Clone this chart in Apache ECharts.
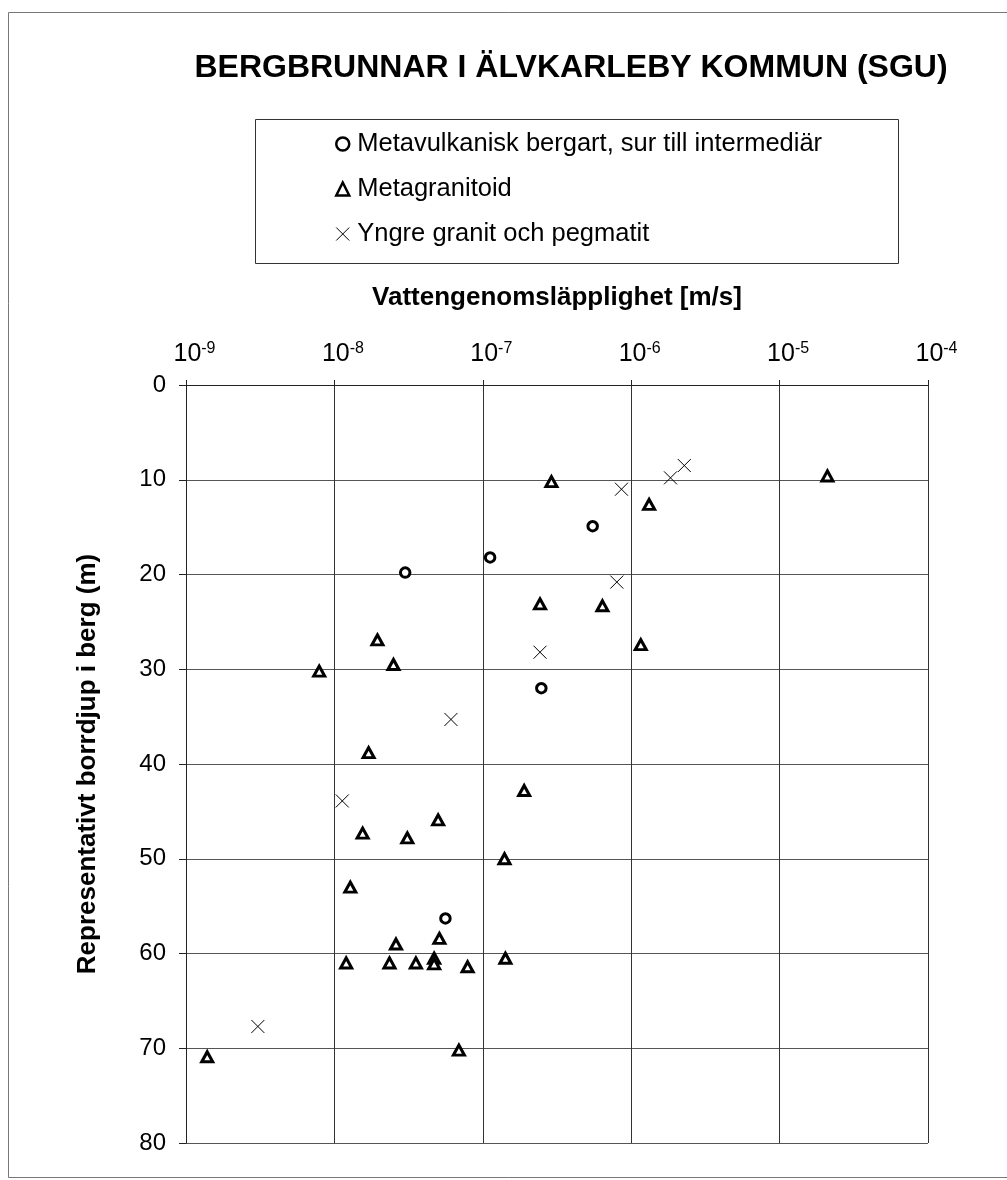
<!DOCTYPE html>
<html>
<head>
<meta charset="utf-8">
<script src="https://cdn.jsdelivr.net/npm/echarts@6/dist/echarts.min.js"></script>
<style>
  html, body { margin: 0; padding: 0; background: #fff; }
  #chart { width: 1007px; height: 1180px; }
</style>
</head>
<body>
<div id="chart"></div>
<script>
// Bergbrunnar i Älvkarleby kommun: hydraulic conductivity [m/s] vs. representative drilled depth in rock [m]

const titleText = 'BERGBRUNNAR I ÄLVKARLEBY KOMMUN (SGU)';
const xAxisName = 'Vattengenomsläpplighet [m/s]';
const yAxisName = 'Representativt borrdjup i berg (m)';
const seriesNames = [
  'Metavulkanisk bergart, sur till intermediär',
  'Metagranitoid',
  'Yngre granit och pegmatit'
];

// [conductivity m/s, depth m]
const metavulkanisk = [
  [3.0e-8, 19.8], [1.12e-7, 18.2], [5.5e-7, 14.9], [2.48e-7, 32.0], [5.6e-8, 56.3]
];

const metagranitoid = [
  [2.9e-7, 10.2], [2.1e-5, 9.6], [1.32e-6, 12.6], [2.43e-7, 23.1], [6.4e-7, 23.3],
  [1.16e-6, 27.4], [1.95e-8, 26.9], [2.5e-8, 29.5], [7.9e-9, 30.2], [1.7e-8, 38.8],
  [1.9e-7, 42.8], [5.0e-8, 45.9], [1.55e-8, 47.3], [3.1e-8, 47.8], [1.4e-7, 50.0],
  [1.28e-8, 53.0], [5.1e-8, 58.4], [2.6e-8, 59.0], [1.42e-7, 60.5], [1.2e-8, 61.0],
  [2.35e-8, 61.0], [3.54e-8, 61.0], [4.7e-8, 60.5], [4.7e-8, 61.1], [7.9e-8, 61.4],
  [1.39e-9, 70.9], [6.9e-8, 70.2]
];

const yngreGranit = [
  [8.6e-7, 11.0], [1.84e-6, 9.8], [2.28e-6, 8.5], [8.0e-7, 20.8],
  [2.43e-7, 28.2], [6.1e-8, 35.3], [1.13e-8, 43.9], [3.05e-9, 67.7]
];

const xMin = 1e-9, xMax = 1e-4;
const yMin = 0, yMax = 80, yStep = 10;

const FONT = '"Liberation Sans", Arial, sans-serif';

const chart = echarts.init(document.getElementById('chart'), null, { renderer: 'canvas' });

chart.setOption({
  backgroundColor: '#fff',
  animation: false,
  textStyle: { fontFamily: FONT, color: '#000' },
  title: {
    text: titleText,
    left: 571,
    top: 52,
    textAlign: 'center',
    padding: 0,
    textStyle: { fontFamily: FONT, fontSize: 32, fontWeight: 'bold', color: '#000' }
  },
  graphic: [
    {
      type: 'rect',
      silent: true,
      shape: { x: 8.5, y: 12.5, width: 1010, height: 1165 },
      style: { fill: 'none', stroke: '#777', lineWidth: 1 }
    },
    {
      type: 'rect',
      silent: true,
      shape: { x: 255.5, y: 119.5, width: 643, height: 144 },
      style: { fill: 'none', stroke: '#333', lineWidth: 1 }
    }
  ],
  legend: {
    orient: 'vertical',
    left: 335,
    top: 131,
    padding: 0,
    itemGap: 19,
    itemWidth: 13,
    itemHeight: 13,
    selectedMode: false,
    data: [
      { name: seriesNames[0], itemStyle: { borderWidth: 2.5 } },
      { name: seriesNames[1], itemStyle: { borderWidth: 2.5 } },
      { name: seriesNames[2], itemStyle: { borderWidth: 1 } }
    ],
    textStyle: { fontFamily: FONT, fontSize: 25.5, color: '#000', lineHeight: 26, padding: [0, 0, 0, 3] }
  },
  grid: { left: 186, right: 79, top: 385, bottom: 37, containLabel: false },
  xAxis: {
    type: 'log',
    logBase: 10,
    position: 'top',
    min: xMin,
    max: xMax,
    splitNumber: 5,
    name: xAxisName,
    nameLocation: 'middle',
    nameGap: 74,
    nameTextStyle: { fontFamily: FONT, fontSize: 26, fontWeight: 'bold', color: '#000' },
    axisLine: { show: true, lineStyle: { color: '#222', width: 1 } },
    axisTick: { show: true, inside: false, length: 5, lineStyle: { color: '#222' } },
    splitLine: { show: true, lineStyle: { color: '#333', width: 1 } },
    minorTick: { show: false },
    axisLabel: {
      margin: 18,
      fontSize: 25,
      fontFamily: FONT,
      color: '#000',
      padding: [0, 0, 0, 17],
      formatter: function (v) {
        const e = Math.round(Math.log10(v));
        return '{b|10}{e|' + e + '}';
      },
      rich: {
        b: { fontFamily: FONT, fontSize: 25, color: '#000', lineHeight: 26 },
        e: { fontFamily: FONT, fontSize: 16, color: '#000', verticalAlign: 'top', lineHeight: 14 }
      }
    }
  },
  yAxis: {
    type: 'value',
    inverse: true,
    min: yMin,
    max: yMax,
    interval: yStep,
    name: yAxisName,
    nameLocation: 'middle',
    nameGap: 85,
    nameRotate: 90,
    nameTextStyle: { fontFamily: FONT, fontSize: 26, fontWeight: 'bold', color: '#000' },
    axisLine: { show: true, lineStyle: { color: '#222', width: 1 } },
    axisTick: { show: true, inside: false, length: 7, lineStyle: { color: '#222' } },
    splitLine: { show: true, lineStyle: { color: '#555', width: 1 } },
    axisLabel: { margin: 20, fontFamily: FONT, fontSize: 24, color: '#000' }
  },
  series: [
    {
      name: seriesNames[0],
      type: 'scatter',
      data: metavulkanisk,
      symbol: 'circle',
      symbolSize: 9.5,
      itemStyle: { color: '#fff', borderColor: '#000', borderWidth: 3, opacity: 1 },
      z: 3
    },
    {
      name: seriesNames[1],
      type: 'scatter',
      data: metagranitoid,
      symbol: 'triangle',
      symbolSize: [11, 10],
      itemStyle: { color: '#fff', borderColor: '#000', borderWidth: 3, opacity: 1 },
      z: 3
    },
    {
      name: seriesNames[2],
      type: 'scatter',
      data: yngreGranit,
      symbol: 'path://M0,0L10,10M10,0L0,10',
      symbolSize: 13,
      itemStyle: { color: 'transparent', borderColor: '#000', borderWidth: 1, opacity: 1 },
      z: 3
    }
  ]
});
</script>
</body>
</html>
